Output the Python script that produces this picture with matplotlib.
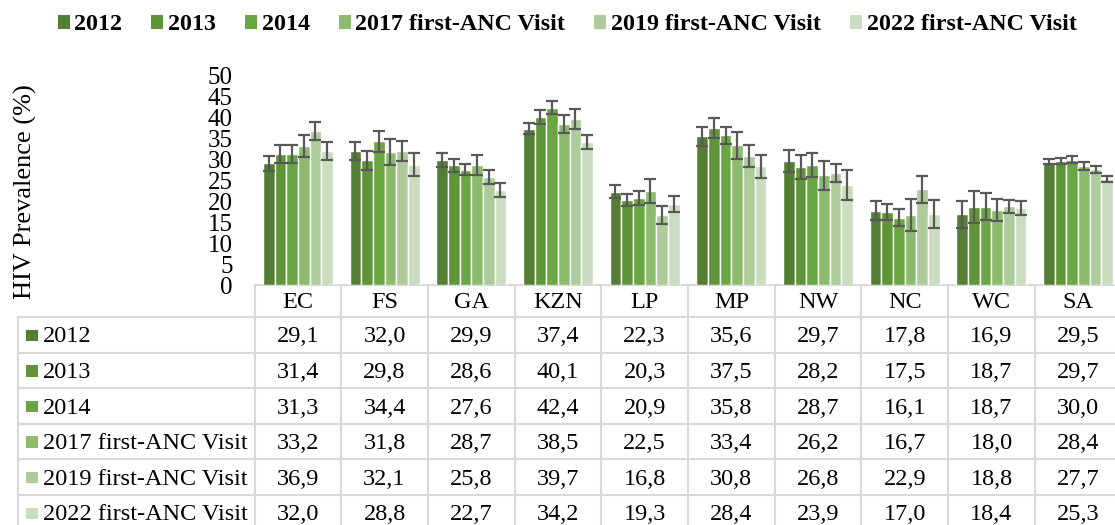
import matplotlib
matplotlib.use("Agg")
import matplotlib.pyplot as plt
import matplotlib.transforms as mtransforms
from matplotlib.patches import Rectangle
from matplotlib.font_manager import FontProperties
import numpy as np

# ---------------- data ----------------
provinces = ["EC", "FS", "GA", "KZN", "LP", "MP", "NW", "NC", "WC", "SA"]
series_names = ["2012", "2013", "2014", "2017 first-ANC Visit",
                "2019 first-ANC Visit", "2022 first-ANC Visit"]

v2012 = [29.1, 32.0, 29.9, 37.4, 22.3, 35.6, 29.7, 17.8, 16.9, 29.5]
v2013 = [31.4, 29.8, 28.6, 40.1, 20.3, 37.5, 28.2, 17.5, 18.7, 29.7]
v2014 = [31.3, 34.4, 27.6, 42.4, 20.9, 35.8, 28.7, 16.1, 18.7, 30.0]
v2017 = [33.2, 31.8, 28.7, 38.5, 22.5, 33.4, 26.2, 16.7, 18.0, 28.4]
v2019 = [36.9, 32.1, 25.8, 39.7, 16.8, 30.8, 26.8, 22.9, 18.8, 27.7]
v2022 = [32.0, 28.8, 22.7, 34.2, 19.3, 28.4, 23.9, 17.0, 18.4, 25.3]

# half-widths of the confidence intervals
e2012 = [1.8, 2.2, 1.6, 1.3, 1.6, 2.3, 2.7, 2.2, 3.3, 0.65]
e2013 = [2.1, 2.3, 1.6, 1.7, 1.5, 2.4, 2.8, 1.9, 3.9, 0.75]
e2014 = [2.1, 2.5, 1.4, 1.6, 1.7, 2.1, 2.8, 2.1, 3.2, 0.75]
e2017 = [2.6, 3.2, 2.3, 2.1, 2.9, 3.3, 3.4, 3.9, 2.6, 1.0]
e2019 = [2.2, 2.4, 1.7, 2.3, 2.1, 2.6, 2.1, 3.2, 1.6, 0.85]
e2022 = [2.2, 2.7, 1.7, 1.7, 1.9, 2.8, 3.5, 3.4, 1.7, 0.75]

values = [v2012, v2013, v2014, v2017, v2019, v2022]
errors = [e2012, e2013, e2014, e2017, e2019, e2022]
colors = ["#537E33", "#5F9539", "#6AA642", "#8CBB6E", "#AECB9B", "#CADDC0"]

yticks = list(range(0, 51, 5))

# ---------------- figure ----------------
W, H = 1115, 525
FONT = "Liberation Serif"
plt.rcParams["font.family"] = [FONT, "DejaVu Serif"]

fig = plt.figure(figsize=(W / 100, H / 100), dpi=100)

ax_left, ax_base, ax_top = 254.5, 285.0, 76.0
col_w = 86.7
ax = fig.add_axes([ax_left / W, (H - ax_base) / H, 10 * col_w / W, (ax_base - ax_top) / H])

n = len(series_names)
bw = 0.1346
x = np.arange(len(provinces))
for i, (name, vals, errs, c) in enumerate(zip(series_names, values, errors, colors)):
    xi = x + (i - (n - 1) / 2) * bw
    ax.bar(xi, vals, width=bw, color=c, edgecolor="white", linewidth=1.0,
           label=name, zorder=2)
    ax.errorbar(xi, vals, yerr=errs, fmt="none", ecolor="#595959",
                elinewidth=1.6, capsize=4.6, capthick=1.6, zorder=3)

ax.set_xlim(-0.5, len(provinces) - 0.5)
ax.set_ylim(0, 50)
ax.set_yticks(yticks)
ax.set_yticklabels([str(t) for t in yticks])
ax.tick_params(axis="y", length=0, pad=15.5, labelsize=18)
ax.set_xticks([])
for s in ax.spines.values():
    s.set_visible(False)
ax.patch.set_alpha(0)

fig.text(25 / W, 1 - 192 / H, "HIV Prevalence (%)", rotation=90,
         ha="center", va="center", fontsize=19)

# legend
handles, labels = ax.get_legend_handles_labels()
leg = fig.legend(handles, labels, loc="center", bbox_to_anchor=(567 / W, 1 - 25 / H),
                 ncol=6, frameon=False,
                 prop=FontProperties(family=FONT, weight="bold", size=17.3),
                 handlelength=0.5, handleheight=0.5, handletextpad=0.2,
                 columnspacing=1.2)
for h in leg.legend_handles:
    h.set_edgecolor("none")

# ---------------- data table ----------------
tax = fig.add_axes([0, 0, 1, 1], zorder=-1)
tax.set_xlim(0, W)
tax.set_ylim(H, 0)
tax.axis("off")
bl = mtransforms.blended_transform_factory(ax.transData, tax.transData)

grid_c = "#D9D9D9"
glw = 1.5
head_top, head_bot = 284.5, 317.0
row_h = 35.6
label_left = 18.0
n_rows = len(series_names)
row_tops = [head_bot + k * row_h for k in range(n_rows + 1)]

# horizontal lines
tax.plot([ax_left, W + 20], [head_top, head_top], color=grid_c, lw=glw)
for yv in row_tops:
    tax.plot([label_left, W + 20], [yv, yv], color=grid_c, lw=glw)
# vertical lines
tax.plot([label_left, label_left], [head_bot, H + 20], color=grid_c, lw=glw)
for b in np.arange(len(provinces) + 1) - 0.5:
    tax.plot([b, b], [head_top, H + 20], color=grid_c, lw=glw, transform=bl)

tfs = 17.5
# header
for i, p in enumerate(provinces):
    tax.text(i, (head_top + head_bot) / 2 + 1.5, p, ha="center", va="center",
             fontsize=tfs, transform=bl)
# rows
for k, (name, vals, c) in enumerate(zip(series_names, values, colors)):
    yc = row_tops[k] + row_h / 2 + 2
    sq = 11.5
    tax.add_patch(Rectangle((26, yc - sq / 2 - 1.5), sq, sq, facecolor=c, edgecolor="none"))
    tax.text(43, yc, name, ha="left", va="center", fontsize=tfs)
    for i, v in enumerate(vals):
        tax.text(i, yc, f"{v:.1f}".replace(".", ","), ha="center", va="center",
                 fontsize=tfs, transform=bl)

fig.savefig("out.png", dpi=100)
